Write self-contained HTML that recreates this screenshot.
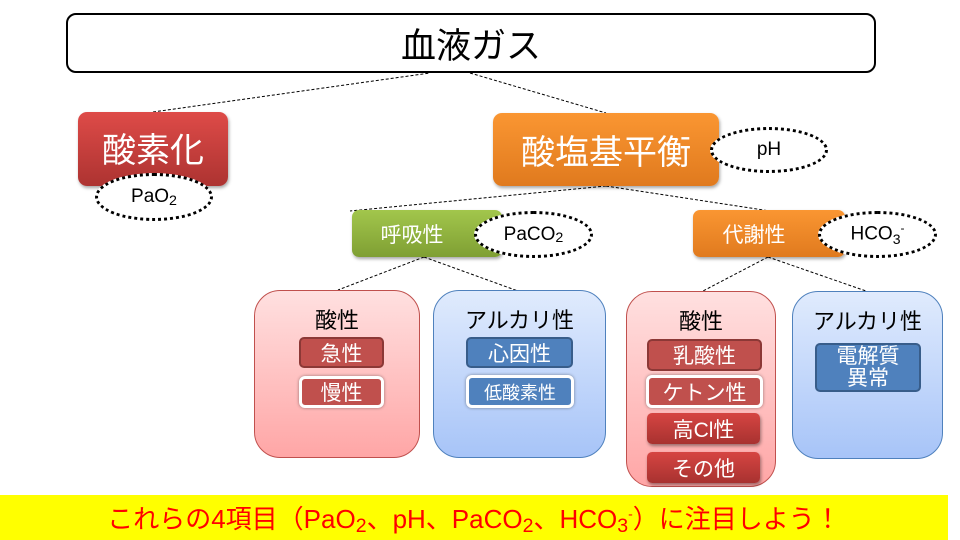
<!DOCTYPE html>
<html><head><meta charset="utf-8"><style>
body{margin:0;width:960px;height:540px;background:#fff;position:relative;overflow:hidden;font-family:"Liberation Sans","Noto Sans CJK JP",sans-serif}
.a{position:absolute;box-sizing:border-box;display:flex;align-items:center;justify-content:center;text-align:center}
.red{background:linear-gradient(#de4b48,#ad3331);color:#fff;border-radius:9px;box-shadow:1px 2px 3px rgba(0,0,0,.35)}
.org{background:linear-gradient(#fa9632,#e07a1e);color:#fff;border-radius:9px;box-shadow:1px 2px 3px rgba(0,0,0,.35)}
.grn{background:linear-gradient(#a2c64c,#7f9f33);color:#fff;border-radius:7px;box-shadow:1px 2px 3px rgba(0,0,0,.35)}
.ell{border:3px dotted #000;border-radius:50%;background:#fff;color:#000;font-size:19px}
.pk{background:linear-gradient(#ffe0e0,#ffa6a6);border:1.5px solid #c0504d;border-radius:26px;align-items:flex-start;padding-top:12px;font-size:22px}
.bl{background:linear-gradient(#e0ebfd,#a7c4f8);border:1.5px solid #4f81bd;border-radius:26px;align-items:flex-start;padding-top:12px;font-size:22px}
.rb{background:#c0504d;border:2px solid #8c3836;border-radius:5px;color:#fff;font-size:21px}
.rw{background:#c0504d;border:3px solid #fff;border-radius:6px;color:#fff;font-size:21px;box-shadow:0 0 3px rgba(0,0,0,.4)}
.rd{background:linear-gradient(#d64542,#a83230);border-radius:5px;color:#fff;font-size:21px;box-shadow:1px 2px 3px rgba(0,0,0,.4)}
.bb{background:#4f81bd;border:2px solid #385d8a;border-radius:5px;color:#fff;font-size:21px}
.bw{background:#4f81bd;border:3px solid #fff;border-radius:6px;color:#fff;font-size:18px;box-shadow:0 0 3px rgba(0,0,0,.4)}
.s{font-size:0.75em;position:relative;top:0.2em}
</style></head><body>
<svg width="960" height="540" style="position:absolute;left:0;top:0">
<g stroke="#000" stroke-width="1" stroke-dasharray="3,2" fill="none">
<line x1="153" y1="112" x2="430" y2="73"/><line x1="470" y1="73" x2="606" y2="113"/>
<line x1="606" y1="186" x2="350" y2="211"/><line x1="606" y1="186" x2="770" y2="211"/>
<line x1="424" y1="257" x2="338" y2="290"/><line x1="424" y1="257" x2="518" y2="291"/>
<line x1="768" y1="257" x2="703" y2="291"/><line x1="768" y1="257" x2="866" y2="291"/>
</g></svg>
<div class="a" style="left:66px;top:13px;width:810px;height:60px;border:2px solid #000;border-radius:10px;font-size:35px">血液ガス</div>
<div class="a red" style="left:78px;top:112px;width:150px;height:74px;font-size:34px;padding-bottom:4px">酸素化</div>
<div class="a ell" style="left:95px;top:173px;width:118px;height:48px"><span>PaO<span class="s">2</span></span></div>
<div class="a org" style="left:493px;top:113px;width:226px;height:73px;font-size:34px">酸塩基平衡</div>
<div class="a ell" style="left:710px;top:127px;width:118px;height:46px">pH</div>
<div class="a grn" style="left:352px;top:210px;width:150px;height:47px;font-size:21px;padding-right:30px">呼吸性</div>
<div class="a ell" style="left:474px;top:211px;width:119px;height:47px"><span>PaCO<span class="s">2</span></span></div>
<div class="a org" style="left:693px;top:210px;width:152px;height:47px;font-size:21px;border-radius:7px;padding-right:30px">代謝性</div>
<div class="a ell" style="left:818px;top:211px;width:119px;height:47px"><span>HCO<sub style="font-size:14px">3</sub><sup style="font-size:12px">-</sup></span></div>
<div class="a pk" style="left:254px;top:290px;width:166px;height:168px">酸性</div>
<div class="a bl" style="left:433px;top:290px;width:173px;height:168px">アルカリ性</div>
<div class="a pk" style="left:626px;top:291px;width:150px;height:196px">酸性</div>
<div class="a bl" style="left:792px;top:291px;width:151px;height:168px">アルカリ性</div>
<div class="a rb" style="left:299px;top:337px;width:85px;height:31px">急性</div>
<div class="a rw" style="left:299px;top:376px;width:85px;height:32px">慢性</div>
<div class="a bb" style="left:466px;top:337px;width:107px;height:31px">心因性</div>
<div class="a bw" style="left:466px;top:375px;width:108px;height:33px">低酸素性</div>
<div class="a rb" style="left:647px;top:339px;width:115px;height:32px">乳酸性</div>
<div class="a rw" style="left:646px;top:375px;width:117px;height:33px">ケトン性</div>
<div class="a rd" style="left:647px;top:413px;width:113px;height:31px">高Cl性</div>
<div class="a rd" style="left:647px;top:452px;width:113px;height:31px">その他</div>
<div class="a bb" style="left:815px;top:343px;width:106px;height:49px;line-height:22px">電解質<br>異常</div>
<div class="a" style="left:0;top:495px;width:948px;height:45px;background:#ff0;color:#f00;font-size:26px"><span>これらの4項目（PaO<span class="s">2</span>、pH、PaCO<span class="s">2</span>、HCO<span class="s">3</span><sup style="font-size:14px">-</sup>）に注目しよう！</span></div>
</body></html>
